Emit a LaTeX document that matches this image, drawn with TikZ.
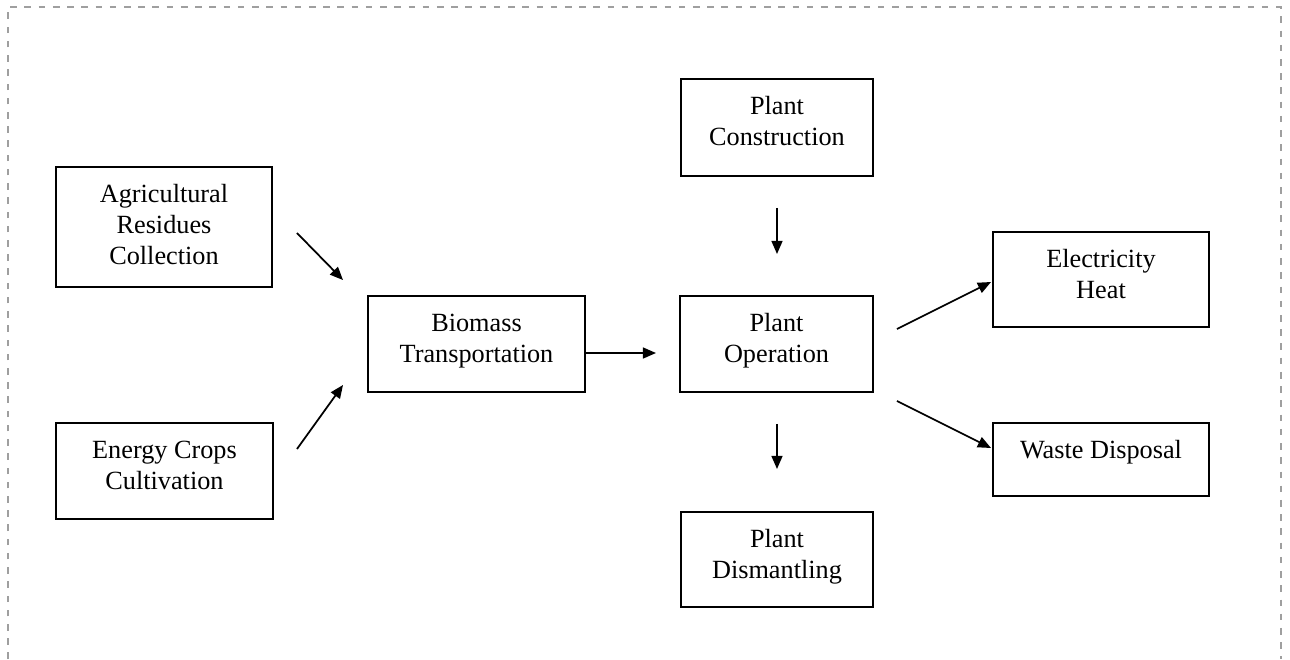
\documentclass[tikz,border=0pt]{standalone}
\usepackage{fontspec}
\setmainfont{Liberation Serif}
\usetikzlibrary{arrows.meta, positioning, calc}

% one pixel of the layout
\newlength{\pxl}
\setlength{\pxl}{0.457pt}
% first-line and last-line struts (text sits at the top of each box)
\newcommand{\firstln}{\rule{0pt}{35\pxl}}
\newcommand{\lastln}[1]{\rule[-#1\pxl]{0pt}{0pt}}

\begin{document}
\begin{tikzpicture}[x=\pxl, y=-\pxl,
    stage/.style={draw, line width=0.9pt, align=center, inner sep=0pt,
                  font=\fontsize{12}{14.17}\selectfont},
    arr/.style={-{Triangle[length=6pt, width=5pt]}, line width=0.8pt}]
    \useasboundingbox (0,0) rectangle (1290,659);

    % Outer frame
    \draw[gray!75, line width=0.8pt, dash pattern=on 3pt off 3.5pt]
        (8,659) -- (8,7) -- (1281,7) -- (1281,659);

    % Define the nodes
    \node[stage, minimum width=216\pxl, minimum height=120\pxl] (agri) at (164,227) {\firstln Agricultural\\Residues\\Collection\lastln{23}};
    \node[stage, minimum width=217\pxl, minimum height=96\pxl] (energy) at (164.5,471) {\firstln Energy Crops\\Cultivation\lastln{30}};
    \node[stage, minimum width=217\pxl, minimum height=96\pxl] (transp) at (476.5,344) {\firstln Biomass\\Transportation\lastln{30}};
    \node[stage, minimum width=192\pxl, minimum height=97\pxl] (constr) at (777,127.5) {\firstln Plant\\Construction\lastln{31}};
    \node[stage, minimum width=193\pxl, minimum height=96\pxl] (oper) at (776.5,344) {\firstln Plant\\Operation\lastln{30}};
    \node[stage, minimum width=192\pxl, minimum height=95\pxl] (dism) at (777,559.5) {\firstln Plant\\Dismantling\lastln{29}};
    \node[stage, minimum width=216\pxl, minimum height=95\pxl] (elec) at (1101,279.5) {\firstln Electricity\\Heat\lastln{29}};
    \node[stage, minimum width=216\pxl, minimum height=73\pxl] (waste) at (1101,459.5) {\firstln Waste Disposal\lastln{38}};

    % Draw the edges
    \draw[arr] ($(agri.east)+(24,6)$) -- ($(transp.north west)+(-24,-15)$);
    \draw[arr] ($(energy.east)+(23,-22)$) -- ($(transp.south west)+(-24,-8)$);
    \draw[arr] ($(transp.east)+(0,9)$) -- ($(oper.west)+(-23,9)$);
    \draw[arr] ($(constr.south)+(0,31)$) -- ($(oper.north)+(0.5,-41)$);
    \draw[arr] ($(oper.south)+(0.5,31)$) -- ($(dism.north)+(0,-42)$);
    \draw[arr] ($(oper.east)+(23,-15)$) -- ($(elec.west)+(-1,2.5)$);
    \draw[arr] ($(oper.east)+(23,57)$) -- ($(waste.west)+(-1,-11.5)$);
\end{tikzpicture}
\end{document}
